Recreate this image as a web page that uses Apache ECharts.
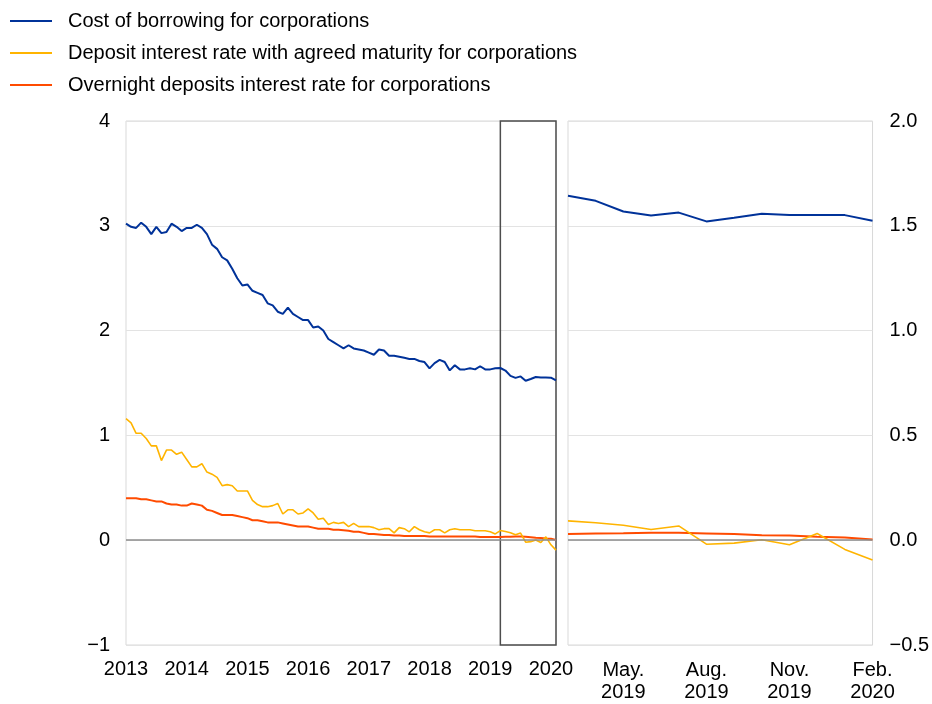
<!DOCTYPE html>
<html lang="en">
  <head>
    <meta charset="UTF-8">
    <title>Corporate borrowing and deposit rates</title>
    <script src="https://cdn.jsdelivr.net/npm/echarts@6/dist/echarts.min.js"></script>
    <style>
      html, body { margin: 0; padding: 0; background: #fff; }
    </style>
  </head>
  <body>
    <div id="main" style="width: 932px;height:704px;"></div>
    <script type="text/javascript">
      // monthly categories, Jan 2013 - Feb 2020
      var months = [];
      for (var y = 2013; y <= 2020; y++) {
        for (var m = 1; m <= 12; m++) {
          if (y === 2020 && m > 2) break;
          months.push(y + '-' + (m < 10 ? '0' + m : m));
        }
      }
      var monthNames = ['Jan.', 'Feb.', 'Mar.', 'Apr.', 'May.', 'Jun.', 'Jul.', 'Aug.', 'Sep.', 'Oct.', 'Nov.', 'Dec.'];

      // zoomed window starts in March 2019
      var zoomStart = 74;

      var borrowing = [
        3.02, 2.99, 2.98, 3.03, 2.99, 2.92, 2.99, 2.93, 2.94, 3.02, 2.99, 2.95,
        2.98, 2.98, 3.01, 2.98, 2.92, 2.82, 2.78, 2.70, 2.67, 2.59, 2.50, 2.43,
        2.44, 2.38, 2.36, 2.34, 2.26, 2.24, 2.18, 2.16, 2.22, 2.16, 2.13, 2.10,
        2.10, 2.03, 2.04, 2.00, 1.92, 1.89, 1.86, 1.83, 1.86, 1.83, 1.82, 1.81,
        1.79, 1.77, 1.82, 1.81, 1.76, 1.76, 1.75, 1.74, 1.73, 1.73, 1.71, 1.70,
        1.64, 1.69, 1.72, 1.70, 1.62, 1.67, 1.63, 1.63, 1.64, 1.63, 1.66, 1.63,
        1.63, 1.64, 1.643, 1.619, 1.568, 1.549, 1.563, 1.521, 1.538, 1.557, 1.552, 1.552,
        1.551, 1.524
      ];
      var agreedDeposit = [
        1.16, 1.12, 1.02, 1.02, 0.97, 0.90, 0.90, 0.76, 0.86, 0.86, 0.82, 0.84,
        0.77, 0.70, 0.70, 0.73, 0.65, 0.63, 0.60, 0.52, 0.53, 0.52, 0.47, 0.47,
        0.47, 0.38, 0.34, 0.32, 0.32, 0.33, 0.35, 0.25, 0.29, 0.29, 0.25, 0.26,
        0.30, 0.26, 0.20, 0.21, 0.15, 0.17, 0.16, 0.17, 0.13, 0.16, 0.13, 0.13,
        0.13, 0.12, 0.10, 0.11, 0.11, 0.07, 0.12, 0.11, 0.08, 0.13, 0.10, 0.08,
        0.07, 0.10, 0.10, 0.07, 0.10, 0.11, 0.10, 0.10, 0.10, 0.09, 0.09, 0.09,
        0.08, 0.06, 0.092, 0.083, 0.071, 0.051, 0.068, -0.019, -0.014, 0.002, -0.022, 0.032,
        -0.044, -0.095
      ];
      var overnightDeposit = [
        0.40, 0.40, 0.40, 0.39, 0.39, 0.38, 0.37, 0.37, 0.35, 0.34, 0.34, 0.33,
        0.33, 0.35, 0.34, 0.33, 0.29, 0.28, 0.26, 0.24, 0.24, 0.24, 0.23, 0.22,
        0.21, 0.19, 0.19, 0.18, 0.17, 0.17, 0.17, 0.16, 0.15, 0.14, 0.13, 0.13,
        0.13, 0.12, 0.11, 0.11, 0.11, 0.10, 0.10, 0.095, 0.09, 0.08, 0.08, 0.07,
        0.06, 0.06, 0.055, 0.05, 0.05, 0.045, 0.045, 0.04, 0.04, 0.04, 0.04, 0.04,
        0.035, 0.035, 0.035, 0.035, 0.035, 0.035, 0.035, 0.035, 0.035, 0.035, 0.03, 0.03,
        0.03, 0.03, 0.030, 0.032, 0.033, 0.035, 0.035, 0.032, 0.029, 0.024, 0.022, 0.016,
        0.013, 0.003
      ];

      var names = [
        'Cost of borrowing for corporations',
        'Deposit interest rate with agreed maturity for corporations',
        'Overnight deposits interest rate for corporations'
      ];
      var colors = ['#003299', '#ffb400', '#ff4b00'];
      var widths = [2, 1.6, 2];
      var seriesData = [borrowing, agreedDeposit, overnightDeposit];

      var font = '"Liberation Sans", Arial, sans-serif';
      var minus = function (s) { return String(s).replace('-', '\u2212'); };

      var series = [];
      seriesData.forEach(function (d, k) {
        var left = {
          name: names[k],
          type: 'line',
          xAxisIndex: 0,
          yAxisIndex: 0,
          data: d,
          showSymbol: false,
          color: colors[k],
          lineStyle: { width: widths[k], color: colors[k] },
          z: 5 - k,
          animation: false
        };
        var right = {
          name: names[k],
          type: 'line',
          xAxisIndex: 1,
          yAxisIndex: 1,
          data: d.slice(zoomStart),
          showSymbol: false,
          color: colors[k],
          lineStyle: { width: widths[k], color: colors[k] },
          z: 5 - k,
          animation: false
        };
        if (k === 0) {
          // zero line + zoom window box on the left panel
          left.markLine = {
            silent: true, symbol: 'none', label: { show: false },
            lineStyle: { color: '#8c8c8c', width: 1.5, type: 'solid' },
            data: [{ yAxis: 0 }]
          };
          left.markArea = {
            silent: true, label: { show: false },
            itemStyle: { color: 'rgba(0,0,0,0)', borderColor: '#4d4d4d', borderWidth: 1.5 },
            data: [[{ xAxis: months[zoomStart] }, { xAxis: months[months.length - 1] }]]
          };
          right.markLine = {
            silent: true, symbol: 'none', label: { show: false },
            lineStyle: { color: '#8c8c8c', width: 1.5, type: 'solid' },
            data: [{ yAxis: 0 }]
          };
        }
        series.push(left, right);
      });

      var myChart = echarts.init(document.getElementById('main'));
      myChart.setOption({
        animation: false,
        backgroundColor: '#fff',
        textStyle: { fontFamily: font },
        legend: {
          orient: 'vertical',
          left: 5,
          top: 6,
          icon: 'rect',
          itemWidth: 42,
          itemHeight: 2,
          itemGap: 12,
          data: names,
          textStyle: { fontSize: 20, color: '#000', fontFamily: font, lineHeight: 20, padding: [0, 0, 0, 11] }
        },
        grid: [
          { left: 126, top: 121, width: 430, height: 524, show: true, borderColor: '#d9d9d9', borderWidth: 1, containLabel: false },
          { left: 568, top: 121, width: 308, height: 524, show: true, borderColor: '#d9d9d9', borderWidth: 1, containLabel: false }
        ],
        xAxis: [
          {
            type: 'category', gridIndex: 0, data: months, boundaryGap: false,
            axisLine: { show: false }, axisTick: { show: false },
            splitLine: { show: false },
            axisLabel: {
              interval: function (idx) { return idx % 12 === 0; },
              formatter: function (v) { return v.slice(0, 4); },
              fontSize: 20, color: '#000', margin: 14, fontFamily: font
            }
          },
          {
            type: 'category', gridIndex: 1, data: months.slice(zoomStart), boundaryGap: false,
            axisLine: { show: false }, axisTick: { show: false },
            splitLine: { show: false },
            axisLabel: {
              interval: function (idx) { return idx % 3 === 2; },
              formatter: function (v) { return monthNames[+v.slice(5) - 1] + '\n' + v.slice(0, 4); },
              fontSize: 20, color: '#000', margin: 14, lineHeight: 22, fontFamily: font
            }
          }
        ],
        yAxis: [
          {
            type: 'value', gridIndex: 0, min: -1, max: 4, interval: 1,
            axisLine: { show: false }, axisTick: { show: false },
            splitLine: { lineStyle: { color: '#e3e3e3', width: 1 } },
            axisLabel: { fontSize: 20, color: '#000', margin: 16, fontFamily: font, formatter: minus }
          },
          {
            type: 'value', gridIndex: 1, position: 'right', min: -0.5, max: 2, interval: 0.5,
            axisLine: { show: false }, axisTick: { show: false },
            splitLine: { lineStyle: { color: '#e3e3e3', width: 1 } },
            axisLabel: {
              fontSize: 20, color: '#000', margin: 17, fontFamily: font,
              formatter: function (v) { return minus(v.toFixed(1)); }
            }
          }
        ],
        series: series
      });
    </script>
  </body>
</html>
